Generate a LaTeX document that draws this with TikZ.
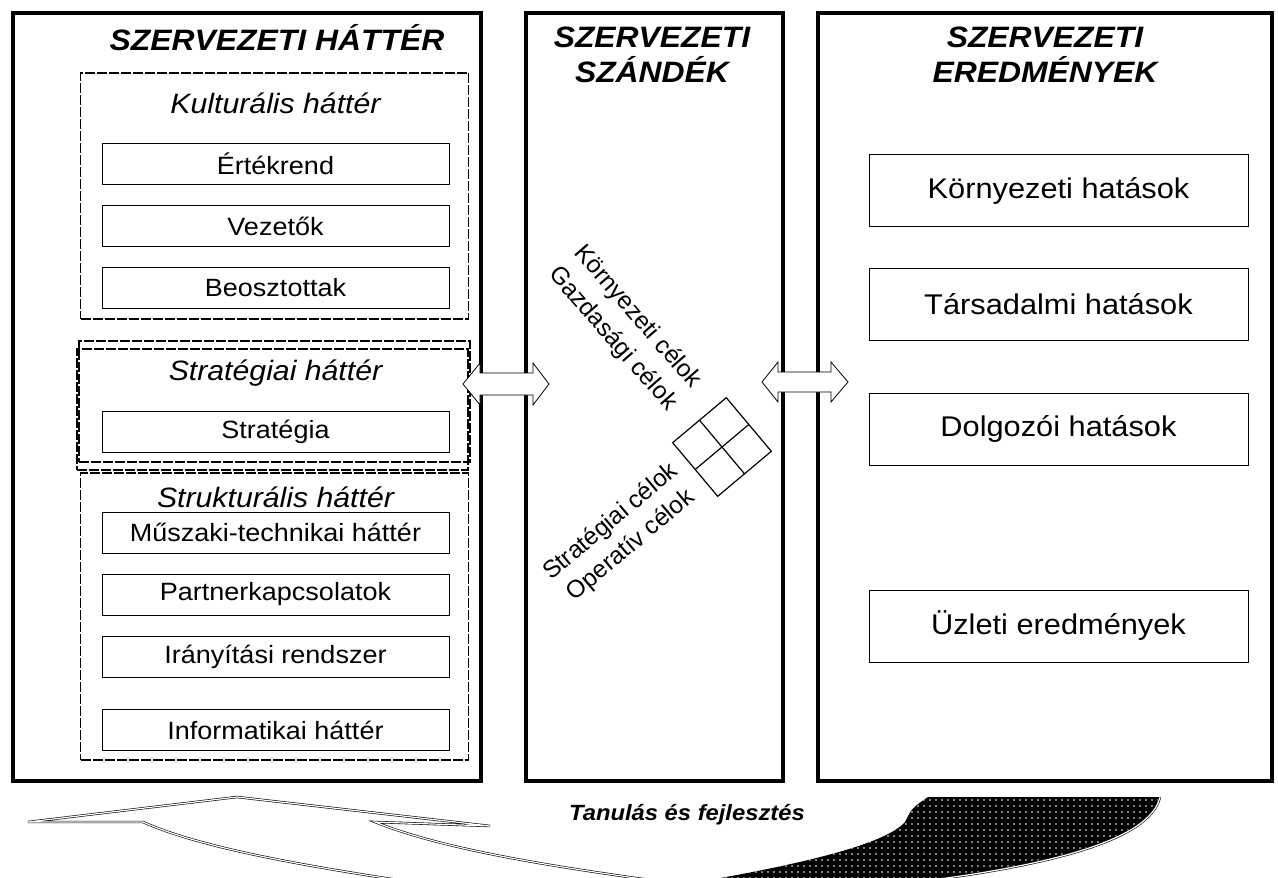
\documentclass[tikz,border=0pt]{standalone}
\usepackage{fontspec}
\setmainfont{Liberation Sans}
\usetikzlibrary{patterns.meta}
\newcommand\sx[1]{\scalebox{1.08}[1]{#1}}
\begin{document}
\begin{tikzpicture}[x=1pt,y=-1pt,
  bigbox/.style={draw, line width=3.5pt, inner sep=0pt},
  dashbox/.style={draw, line width=1.8pt, dash pattern=on 10pt off 2pt, inner sep=0pt},
  itembox/.style={draw, line width=1pt, inner sep=0pt, minimum width=347pt, minimum height=41pt, font=\fontsize{25}{28}\selectfont},
  resbox/.style={draw, line width=1pt, inner sep=0pt, minimum width=379pt, minimum height=72pt, font=\fontsize{28.5}{30}\selectfont},
  title/.style={font=\fontsize{29.5}{35}\selectfont\bfseries\itshape, align=center, inner sep=0pt},
  subtitle/.style={font=\fontsize{28}{30}\selectfont\itshape, inner sep=0pt},
  goal/.style={font=\fontsize{24.5}{33}\selectfont, align=center, inner sep=0pt},
  blockarrow/.style={draw, line width=0.8pt, fill=white},
  ribbon/.style={draw, line width=0.6pt, double=white, double distance=1.2pt}
]
\useasboundingbox (0,0) rectangle (1278,878);
\clip (0,0) rectangle (1278,878);

% outer columns
\node[bigbox, minimum width=468pt, minimum height=768pt] (left) at (247,397) {};
\node[bigbox, minimum width=257pt, minimum height=768pt] (mid) at (654.5,397) {};
\node[bigbox, minimum width=454pt, minimum height=768pt] (right) at (1045,397) {};

% titles
\node[title] (t1) at (277,38) {\sx{SZERVEZETI HÁTTÉR}};
\node[title] (t2) at (652,55) {\sx{SZERVEZETI}\\\sx{SZÁNDÉK}};
\node[title] (t3) at (1045,55) {\sx{SZERVEZETI}\\\sx{EREDMÉNYEK}};

% dashed group boxes
\node[dashbox, minimum width=388pt, minimum height=246pt] (kult) at (274.5,196) {};
\node[dashbox, minimum width=391pt, minimum height=121pt] (strat2) at (274.5,401.5) {};
\node[dashbox, minimum width=391pt, minimum height=121pt] (strat) at (272.5,409.5) {};
\node[dashbox, minimum width=388pt, minimum height=287pt] (strukt) at (274.5,616.5) {};

% group titles
\node[subtitle] (kultT) at (275.5,103) {\sx{Kulturális háttér}};
\node[subtitle] (stratT) at (275.5,373) {\sx{Stratégiai háttér}};
\node[subtitle] (struktT) at (275.5,497) {\sx{Strukturális háttér}};

% items
\node[itembox] (ertek) at (275.5,164) {\sx{Értékrend}};
\node[itembox] (vez) at (275.5,226) {\sx{Vezetők}};
\node[itembox] (beo) at (275.5,287.5) {\sx{Beosztottak}};
\node[itembox] (stra) at (275.5,432) {\sx{Stratégia}};
\node[itembox] (musz) at (275.5,532.5) {\sx{Műszaki-technikai háttér}};
\node[itembox] (part) at (275.5,594.5) {\sx{Partnerkapcsolatok}};
\node[itembox] (iran) at (275.5,656.5) {\sx{Irányítási rendszer}};
\node[itembox] (info) at (275.5,730) {\sx{Informatikai háttér}};

% results
\node[resbox] (korny) at (1058.5,190.5) {\sx{Környezeti hatások}};
\node[resbox] (tars) at (1058.5,304) {\sx{Társadalmi hatások}};
\node[resbox] (dolg) at (1058.5,429) {\sx{Dolgozói hatások}};
\node[resbox] (uzl) at (1058.5,626) {\sx{Üzleti eredmények}};

% block arrows
\coordinate (a1) at (506,384);
\draw[blockarrow] ([xshift=-43pt]a1) -- ++(17,-21) -- ++(0,10) -- ++(53,0) -- ++(0,-10) -- ([xshift=43pt]a1)
  -- ++(-16,21) -- ++(0,-10) -- ++(-53,0) -- ++(0,10) -- cycle;
\coordinate (a2) at (805,382);
\draw[blockarrow] ([xshift=-43pt]a2) -- ++(16,-20) -- ++(0,10) -- ++(53,0) -- ++(0,-10) -- ([xshift=43pt]a2)
  -- ++(-17,20) -- ++(0,-10) -- ++(-53,0) -- ++(0,10) -- cycle;

% goals grid
\begin{scope}[shift={(722,447)}, rotate=40, line width=1.2pt]
  \draw (-35,-35) rectangle (35,35);
  \draw (-35,0) -- (35,0);
  \draw (0,-35) -- (0,35);
\end{scope}
\node[goal, rotate=-49] (g1) at (625,328) {Környezeti célok\\Gazdasági célok};
\node[goal, rotate=40, font=\fontsize{24.5}{31}\selectfont] (g2) at (621,534) {Stratégiai célok\\Operatív célok};

% learning arrow
\node[font=\fontsize{22}{25}\selectfont\bfseries\itshape, inner sep=0pt] (learn) at (687,815) {\sx{Tanulás és fejlesztés}};
\draw[ribbon, fill=white] (28,822) -- (237,797) -- (490,826) -- (375,822)
  .. controls (450,852) and (570,870) .. (740,892) -- (480,892)
  .. controls (340,872) and (210,852) .. (143,822) -- cycle;
\fill[black] (928,797) -- (1160,797) .. controls (1150,840) and (1050,872) .. (820,892) -- (640,892)
  .. controls (760,872) and (880,850) .. (905,822) .. controls (912,808) .. (928,797) -- cycle;
\fill[pattern={Dots[distance=6pt,radius=0.9pt]}, pattern color=white] (928,797) -- (1160,797) .. controls (1150,840) and (1050,872) .. (820,892) -- (640,892)
  .. controls (760,872) and (880,850) .. (905,822) .. controls (912,808) .. (928,797) -- cycle;
\draw[ribbon] (1160,797) .. controls (1150,840) and (1050,872) .. (820,892);
\end{tikzpicture}
\end{document}
